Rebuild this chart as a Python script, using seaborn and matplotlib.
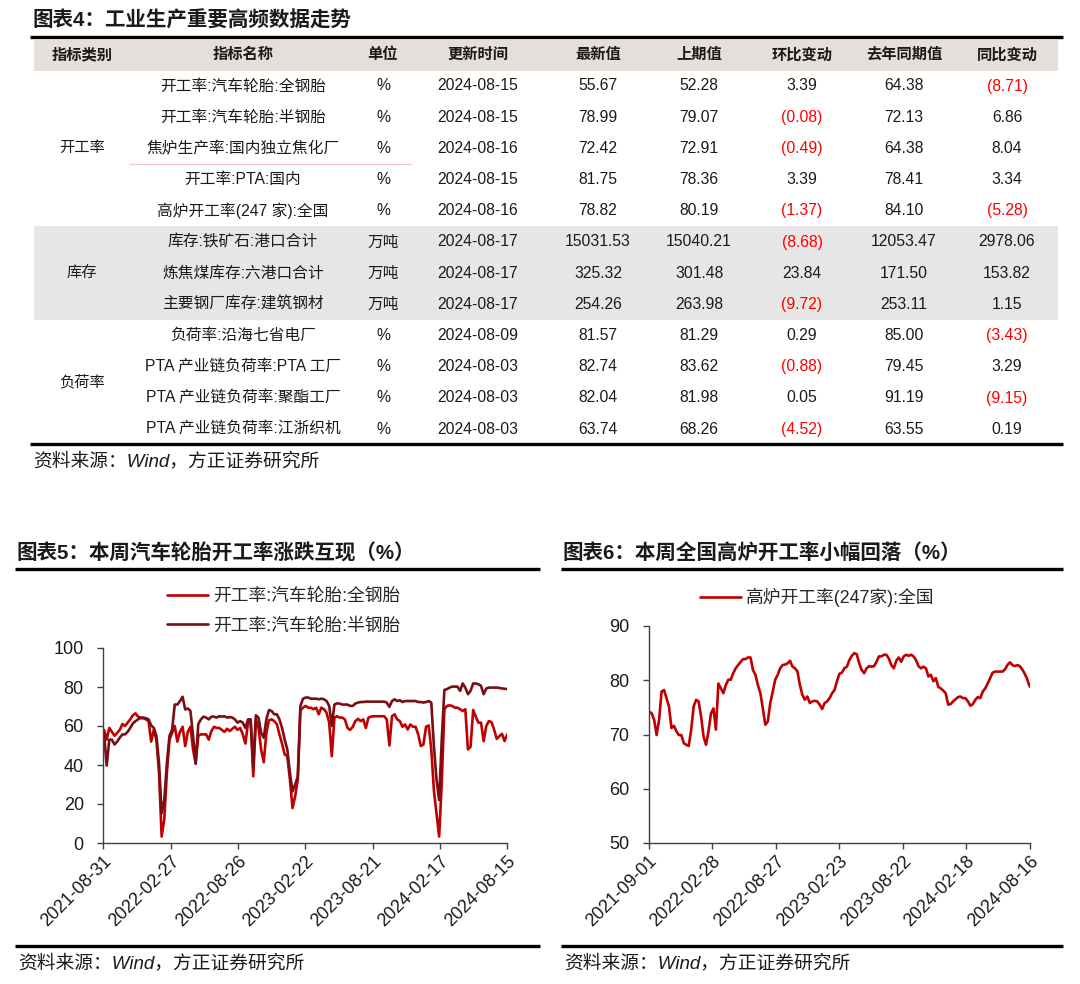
import pandas as pd
import matplotlib
matplotlib.use("Agg")
import matplotlib.pyplot as plt
from matplotlib.patches import Rectangle
import seaborn as sns

# ---------- 图表4 table ----------
table_title = "图表4：工业生产重要高频数据走势"
headers = ["指标类别", "指标名称", "单位", "更新时间", "最新值", "上期值", "环比变动", "去年同期值", "同比变动"]
groups = ["开工率", "库存", "负荷率"]
group_sizes = [5, 3, 4]
names = ["开工率:汽车轮胎:全钢胎", "开工率:汽车轮胎:半钢胎", "焦炉生产率:国内独立焦化厂",
         "开工率:PTA:国内", "高炉开工率(247 家):全国", "库存:铁矿石:港口合计",
         "炼焦煤库存:六港口合计", "主要钢厂库存:建筑钢材", "负荷率:沿海七省电厂",
         "PTA 产业链负荷率:PTA 工厂", "PTA 产业链负荷率:聚酯工厂", "PTA 产业链负荷率:江浙织机"]
units = ["%", "%", "%", "%", "%", "万吨", "万吨", "万吨", "%", "%", "%", "%"]
update_dates = ["2024-08-15", "2024-08-15", "2024-08-16", "2024-08-15", "2024-08-16", "2024-08-17",
                "2024-08-17", "2024-08-17", "2024-08-09", "2024-08-03", "2024-08-03", "2024-08-03"]
latest = [55.67, 78.99, 72.42, 81.75, 78.82, 15031.53, 325.32, 254.26, 81.57, 82.74, 82.04, 63.74]
previous = [52.28, 79.07, 72.91, 78.36, 80.19, 15040.21, 301.48, 263.98, 81.29, 83.62, 81.98, 68.26]
mom_change = [3.39, -0.08, -0.49, 3.39, -1.37, -8.68, 23.84, -9.72, 0.29, -0.88, 0.05, -4.52]
last_year = [64.38, 72.13, 64.38, 78.41, 84.10, 12053.47, 171.50, 253.11, 85.00, 79.45, 91.19, 63.55]
yoy_change = [-8.71, 6.86, 8.04, 3.34, -5.28, 2978.06, 153.82, 1.15, -3.43, 3.29, -9.15, 0.19]

# ---------- 图表5 tyre operating rate (weekly) ----------
tyre_end = "2024-08-15"
tyre_labels = ["开工率:汽车轮胎:全钢胎", "开工率:汽车轮胎:半钢胎"]
all_steel = [58, 53, 59, 57, 55, 56.5, 58, 61, 60, 61.7,
             63.4, 65.5, 66.5, 64.8, 64, 64, 63.4, 62.5, 52, 58,
             53, 36, 3.3, 12, 36, 53, 56.5, 60, 52, 57,
             59.6, 49.7, 57, 59.6, 48, 40.7, 55, 55.7, 55.7, 55.7,
             53, 57.4, 59.6, 59, 59, 58, 57, 58.6, 57.4, 58.6,
             59.6, 58, 59, 55.7, 51, 61.7, 62.5, 34.2, 63.4, 59,
             48, 41.4, 56.5, 63, 63.4, 62.5, 61, 55.7, 51, 45.4,
             44.5, 32.5, 17.9, 24, 32.5, 68, 69.4, 70.3, 69.4, 69.4,
             68.6, 69.4, 66, 69.4, 68.6, 66.8, 61.7, 44.5, 64.3, 65,
             64.3, 64.3, 63.4, 59, 58, 59.6, 62.5, 63.7, 62.5, 63.4,
             59, 64.3, 64.8, 65, 65, 65, 65, 65, 63.4, 50,
             65, 66, 63.4, 62.5, 59.6, 60.8, 58.2, 60.8, 59.6, 59.6,
             55.7, 49.7, 50.5, 59.6, 60.3, 48, 27, 15.3, 3.3, 30.7,
             68.6, 70.3, 70.6, 70.3, 69.4, 69.4, 68.6, 67.7, 68.6, 48,
             49.3, 68.2, 64.8, 61.7, 61.7, 52.2, 60, 62.5, 62, 58.2,
             53.4, 54.8, 56, 52.28, 55.67]
semi_steel = [55.7, 39.7, 53, 53, 50.5, 52, 54, 55.7, 55.7, 57,
              59, 61.3, 62.5, 63.4, 64.3, 64.3, 64, 63.4, 60.3, 59,
              55, 41, 15.3, 22, 41, 55, 58, 71, 71, 72.8,
              75, 68.5, 69, 67.7, 55, 40.7, 61, 63.4, 64.8, 64.3,
              63.4, 64.8, 64.8, 64.3, 65, 64.8, 65, 64.3, 64.6, 64.3,
              63.4, 61.7, 62.5, 61.7, 59, 63.4, 63.4, 39.3, 65.5, 64.3,
              56.5, 54, 63.4, 68.2, 67.7, 66, 66, 63.4, 59, 53,
              48, 36, 26.5, 30, 34, 70.3, 74, 74.6, 74.6, 74,
              74, 74, 73.7, 74, 73.7, 72.8, 70.3, 60, 71, 71.6,
              71.5, 71, 71, 71, 70.3, 70.3, 71.5, 72, 72.3, 72.3,
              72.5, 72.5, 72.5, 72.5, 72.5, 72.5, 72.5, 72.5, 72, 69.8,
              72.8, 73.7, 72.8, 73.2, 72.3, 72.8, 72.8, 72.8, 72.8, 72.8,
              72.3, 72.3, 72, 72.3, 72.8, 72, 49.7, 32.5, 22, 53,
              78.5, 78.9, 79.7, 80.2, 80.2, 80.2, 78, 81.8, 79.7, 76.3,
              78, 81.8, 81.8, 81.4, 80.6, 76.3, 79.2, 79.7, 79.7, 79.7,
              79.7, 79.5, 79.3, 79.07, 78.99]
tyre_ticks = ["2021-08-31", "2022-02-27", "2022-08-26", "2023-02-22", "2023-08-21", "2024-02-17", "2024-08-15"]

# ---------- 图表6 blast furnace operating rate (weekly) ----------
bf_end = "2024-08-16"
bf_label = "高炉开工率(247家):全国"
blast_furnace = [74.2, 73.9, 72.7, 69.9, 72.7, 77.9, 78.2, 76.7, 75.2, 71.2,
                 71.6, 70.6, 69.9, 69.9, 68.4, 68.1, 67.9, 70.9, 75.2, 76.4,
                 76.1, 73.3, 69.6, 68.1, 70.6, 73.9, 74.8, 70.9, 79.4, 78.5,
                 77.6, 79.1, 80.1, 80.1, 81.3, 82.2, 82.8, 83.4, 83.9, 83.9,
                 84.2, 84.2, 81.9, 81.0, 79.1, 77.6, 74.8, 71.8, 72.4, 75.8,
                 77.9, 80.1, 81.0, 82.2, 82.8, 82.9, 83.1, 83.6, 82.5, 82.2,
                 81.6, 79.1, 77.3, 76.4, 77.0, 75.8, 76.1, 76.2, 76.1, 75.5,
                 74.7, 75.8, 76.1, 76.7, 77.6, 78.2, 79.8, 81.2, 81.4, 82.2,
                 82.5, 83.7, 84.5, 85.0, 84.8, 83.1, 81.9, 81.3, 82.2, 82.6,
                 82.5, 82.6, 83.4, 84.4, 84.4, 84.7, 84.7, 84.0, 82.8, 82.2,
                 83.6, 84.2, 83.4, 84.4, 84.7, 84.5, 84.7, 84.4, 83.7, 82.6,
                 82.2, 82.5, 82.2, 80.7, 81.0, 79.8, 80.4, 78.8, 78.5, 78.1,
                 77.6, 75.5, 75.6, 76.1, 76.5, 76.9, 77.0, 76.7, 76.7, 76.1,
                 75.3, 75.6, 76.4, 76.9, 76.7, 77.9, 78.5, 79.4, 80.4, 81.4,
                 81.6, 81.6, 81.6, 81.6, 82.0, 82.8, 83.3, 82.8, 82.6, 82.8,
                 82.6, 82.0, 81.2, 80.19, 78.82]
bf_ticks = ["2021-09-01", "2022-02-28", "2022-08-27", "2023-02-23", "2023-08-22", "2024-02-18", "2024-08-16"]

title5 = "图表5：本周汽车轮胎开工率涨跌互现（%）"
title6 = "图表6：本周全国高炉开工率小幅回落（%）"
source = "资料来源：Wind，方正证券研究所"

RED = "#C00000"
DARK_RED = "#7A0E14"
NEG_RED = "#FF0000"
FONT = ["Liberation Sans", "Noto Sans CJK SC", "DejaVu Sans"]

sns.set_style("ticks")
plt.rcParams["font.family"] = FONT
plt.rcParams["axes.unicode_minus"] = False

fig = plt.figure(figsize=(10.8, 9.84), dpi=100)

# overlay axes in pixel coordinates for table and frame elements
tab = fig.add_axes([0, 0, 1, 1])
tab.set_xlim(0, 1080)
tab.set_ylim(984, 0)
tab.axis("off")


def fmt(v):
    return f"({abs(v):.2f})" if v < 0 else f"{v:.2f}"


tab.text(33, 21, table_title, fontsize=14.8, fontweight="bold", va="center", ha="left", color="#1a1a1a")
tab.plot([30, 1063], [37, 37], color="black", lw=2.4, solid_capstyle="butt")
tab.add_patch(Rectangle((34, 40), 1024, 30.5, facecolor="#E4DFDA", edgecolor="none"))

col_x = [82, 243, 383, 478, 598, 699, 802, 904, 1007]
for x, h in zip(col_x, headers):
    tab.text(x, 55, h, fontsize=11, fontweight="bold", ha="center", va="center", color="#1a1a1a")

row0, pitch = 86, 31.2
row_y = [row0 + pitch * k for k in range(len(names))]

# shaded inventory block
start = group_sizes[0]
tab.add_patch(Rectangle((34, row_y[start] - pitch / 2), 1024, pitch * group_sizes[1],
                        facecolor="#E7E6E6", edgecolor="none"))
tab.plot([129, 411], [163.5, 163.5], color="#F4C6C6", lw=0.9)

k = 0
for g, n in zip(groups, group_sizes):
    yc = (row_y[k] + row_y[k + n - 1]) / 2
    tab.text(col_x[0], yc, g, fontsize=11, ha="center", va="center", color="#1a1a1a")
    k += n

for i in range(len(names)):
    y = row_y[i]
    cells = [names[i], units[i], update_dates[i], fmt(latest[i]), fmt(previous[i]),
             fmt(mom_change[i]), fmt(last_year[i]), fmt(yoy_change[i])]
    for j, c in enumerate(cells):
        color = "#1a1a1a"
        if (j == 5 and mom_change[i] < 0) or (j == 7 and yoy_change[i] < 0):
            color = NEG_RED
        tab.text(col_x[j + 1], y, c, fontsize=11.3, ha="center", va="center", color=color)

tab.plot([30, 1063], [444, 444], color="black", lw=2.4, solid_capstyle="butt")
tab.text(33, 461, source, fontsize=13.5, style="italic", ha="left", va="center", color="#1a1a1a")

# chart frames
for x0, x1, t in [(15, 540, title5), (561, 1063, title6)]:
    tab.text(x0 + 2, 553, t, fontsize=14.8, fontweight="bold", ha="left", va="center", color="#1a1a1a")
    tab.plot([x0, x1], [568.5, 568.5], color="black", lw=2.4, solid_capstyle="butt")
    tab.plot([x0, x1], [946, 946], color="black", lw=2.4, solid_capstyle="butt")
    tab.text(x0 + 3, 963, source, fontsize=13.5, style="italic", ha="left", va="center", color="#1a1a1a")

# ---------- chart 5 ----------
tyre_dates = pd.date_range(end=tyre_end, periods=len(all_steel), freq="7D")
df5 = pd.DataFrame({"date": tyre_dates, tyre_labels[0]: all_steel, tyre_labels[1]: semi_steel})
long5 = df5.melt(id_vars="date", var_name="series", value_name="value")

ax1 = fig.add_axes([103.3 / 1080, 1 - 843 / 984, (507.2 - 103.3) / 1080, (843 - 648) / 984])
sns.lineplot(data=long5, x="date", y="value", hue="series", hue_order=tyre_labels,
             palette=[RED, DARK_RED], linewidth=1.9, ax=ax1)
ax1.set_xlim(pd.Timestamp(tyre_ticks[0]), pd.Timestamp(tyre_ticks[-1]))
ax1.set_ylim(0, 100)
ax1.set_yticks(range(0, 101, 20))
ax1.set_xticks(pd.to_datetime(tyre_ticks))
ax1.set_xticklabels(tyre_ticks)
h, l = ax1.get_legend_handles_labels()
ax1.legend(h, l, loc="upper left", bbox_to_anchor=(167 / 1080, 1 - 588 / 984),
           bbox_transform=fig.transFigure, frameon=False, fontsize=12.8,
           handlelength=2.3, handletextpad=0.3, labelspacing=0.7, borderpad=0, borderaxespad=0)

# ---------- chart 6 ----------
bf_dates = pd.date_range(end=bf_end, periods=len(blast_furnace), freq="7D")
df6 = pd.DataFrame({"date": bf_dates, "value": blast_furnace, "series": bf_label})

ax2 = fig.add_axes([648.5 / 1080, 1 - 843 / 984, (1029.7 - 648.5) / 1080, (843 - 626) / 984])
sns.lineplot(data=df6, x="date", y="value", hue="series", palette=[RED], linewidth=1.9, ax=ax2)
ax2.set_xlim(pd.Timestamp(bf_ticks[0]), pd.Timestamp(bf_ticks[-1]))
ax2.set_ylim(50, 90)
ax2.set_yticks(range(50, 91, 10))
ax2.set_xticks(pd.to_datetime(bf_ticks))
ax2.set_xticklabels(bf_ticks)
h, l = ax2.get_legend_handles_labels()
ax2.legend(h, l, loc="upper left", bbox_to_anchor=(700 / 1080, 1 - 588 / 984),
           bbox_transform=fig.transFigure, frameon=False, fontsize=12.8,
           handlelength=2.3, handletextpad=0.3, borderpad=0, borderaxespad=0)

for ax in (ax1, ax2):
    ax.set_xlabel("")
    ax.set_ylabel("")
    ax.patch.set_alpha(0)
    for s in ("top", "right"):
        ax.spines[s].set_visible(False)
    for s in ("left", "bottom"):
        ax.spines[s].set_color("#404040")
        ax.spines[s].set_linewidth(1)
    ax.tick_params(axis="both", colors="#404040", labelcolor="#1a1a1a", length=4, width=1, labelsize=13)
    ax.tick_params(axis="y", pad=10)
    ax.tick_params(axis="x", pad=3)
    for lab in ax.get_xticklabels():
        lab.set_rotation(45)
        lab.set_ha("right")
        lab.set_rotation_mode("anchor")

fig.savefig("out.png", dpi=100)
